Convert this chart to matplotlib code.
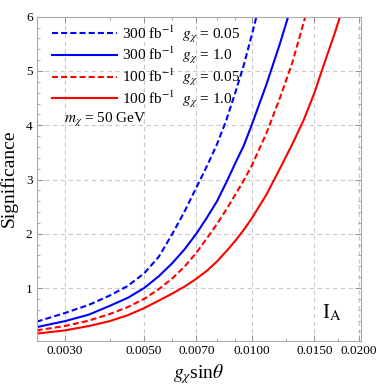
import matplotlib
matplotlib.use("Agg")
import matplotlib.pyplot as plt
from matplotlib.ticker import FixedLocator, NullFormatter

plt.rcParams['font.family'] = ['Liberation Serif', 'DejaVu Serif']
plt.rcParams['mathtext.fontset'] = 'stix'

# g_X sin(theta) sample points and read-off significance values
x_lo = [0.0025, 0.003, 0.0035, 0.004, 0.0045, 0.005, 0.0055, 0.006, 0.0065,
        0.007, 0.0075, 0.008, 0.0085, 0.009, 0.0095, 0.01]
x_hi = [0.0105, 0.011, 0.012, 0.013, 0.014, 0.015, 0.016, 0.017, 0.018]

sig_300_005 = [0.38, 0.54, 0.69, 0.86, 1.04, 1.27, 1.58, 2.0, 2.42,
               2.85, 3.25, 3.65, 4.1, 4.6, 5.1, 5.65, 6.2]
sig_300_10 = [0.28, 0.39, 0.51, 0.67, 0.82, 1.0, 1.22, 1.46, 1.72,
              2.0, 2.3, 2.6, 2.95, 3.3, 3.62, 4.0, 4.75, 5.5, 6.25]
sig_100_005 = [0.22, 0.30, 0.40, 0.52, 0.65, 0.80, 0.98, 1.18, 1.40,
               1.65, 1.92, 2.18, 2.45, 2.72, 2.98, 3.25, 3.85, 4.5, 5.15, 5.9, 6.6]
sig_100_10 = [0.16, 0.22, 0.30, 0.39, 0.50, 0.63, 0.77, 0.90, 1.03,
              1.17, 1.32, 1.49, 1.68, 1.87, 2.07, 2.28, 2.72, 3.2, 3.65, 4.1,
              4.6, 5.15, 5.65, 6.15]

x_300_005 = x_lo + x_hi[:1]
x_300_10 = x_lo + x_hi[1:4]
x_100_005 = x_lo + x_hi[1:6]
x_100_10 = x_lo + x_hi[1:]

labels = [r"300 fb$^{-1}$  $g_{\chi}$ = 0.05",
          r"300 fb$^{-1}$  $g_{\chi}$ = 1.0",
          r"100 fb$^{-1}$  $g_{\chi}$ = 0.05",
          r"100 fb$^{-1}$  $g_{\chi}$ = 1.0"]
xticks = [0.003, 0.005, 0.007, 0.01, 0.015, 0.02]
xtick_labels = ["0.0030", "0.0050", "0.0070", "0.0100", "0.0150", "0.0200"]

fig = plt.figure(figsize=(3.82, 3.86), dpi=100)
ax = fig.add_axes([0.096, 0.1174, 0.848, 0.8393])

dash = (0, (2.9, 1.5))
ax.plot(x_300_005, sig_300_005, color='#0000ff', lw=1.5, ls=dash, label=labels[0])
ax.plot(x_300_10, sig_300_10, color='#0000ff', lw=1.5, label=labels[1])
ax.plot(x_100_005, sig_100_005, color='#ff0000', lw=1.5, ls=dash, label=labels[2])
ax.plot(x_100_10, sig_100_10, color='#ff0000', lw=1.5, label=labels[3])

ax.set_xscale('log')
ax.set_xlim(0.0025, 0.0202)
ax.set_ylim(0.03, 6)

ax.xaxis.set_major_locator(FixedLocator(xticks))
ax.set_xticklabels(xtick_labels)
ax.xaxis.set_minor_locator(FixedLocator([0.004, 0.006, 0.008, 0.009, 0.0125, 0.0175]))
ax.xaxis.set_minor_formatter(NullFormatter())
ax.set_yticks([1, 2, 3, 4, 5, 6])
ax.yaxis.set_minor_locator(FixedLocator([i * 0.2 for i in range(1, 30) if i % 5]))

ax.tick_params(which='both', direction='in', top=True, right=True, color='#888888',
               labelsize=9.5, pad=3)
ax.tick_params(which='major', length=4, width=0.6)
ax.tick_params(which='minor', length=2.2, width=0.5)
for s in ax.spines.values():
    s.set_color('#aaaaaa')
    s.set_linewidth(0.8)

ax.grid(True, which='major', color='#c8c8c8', lw=0.8, ls=(0, (4, 3)))

ax.set_xlabel(r"$g_{\chi}$sin$\theta$", fontsize=14, labelpad=4)
ax.set_ylabel("Significance", fontsize=14, labelpad=6)

ax.legend(loc='upper left', frameon=False, fontsize=11, handlelength=4.25,
          handletextpad=0.3, labelspacing=0.02, borderaxespad=0.15,
          borderpad=0.3, bbox_to_anchor=(0.027, 1.0))
ax.text(0.084, 0.672, r"$m_{\chi}$ = 50 GeV", transform=ax.transAxes, fontsize=11)
ax.text(0.91, 0.07, r"I$_{\mathrm{A}}$", transform=ax.transAxes, fontsize=15,
        ha='center')

fig.savefig("out.png", dpi=100)
